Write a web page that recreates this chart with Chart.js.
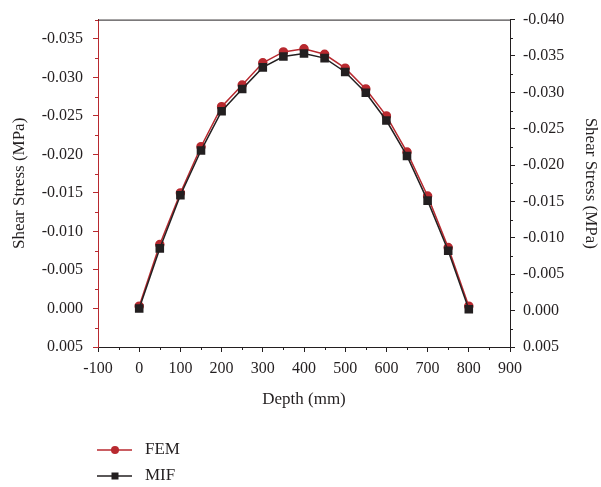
<!DOCTYPE html>
<html>
<head>
<meta charset="utf-8">
<script src="https://cdn.jsdelivr.net/npm/chart.js@4/dist/chart.umd.min.js"></script>
<style>
html, body { margin: 0; padding: 0; background: #fff; }
#wrap { width: 601px; height: 487px; }
</style>
</head>
<body>
<div id="wrap"><canvas id="shearChart" width="601" height="487"></canvas></div>
<script>
// data
var depth = [0, 50, 100, 150, 200, 250, 300, 350, 400, 450, 500, 550, 600, 650, 700, 750, 800];
var femStress = [-0.0003, -0.0083, -0.0150, -0.0210, -0.0262, -0.0290, -0.0319, -0.0333, -0.0337,
	-0.0330, -0.0312, -0.0285, -0.0250, -0.0203, -0.0146, -0.0079, -0.0003];
var mifStress = [0.0000, -0.0078, -0.0147, -0.0205, -0.0256, -0.0285, -0.0313, -0.0327, -0.0331,
	-0.0325, -0.0307, -0.0280, -0.0244, -0.0198, -0.0140, -0.0075, 0.0001];

var depthTicks = [-100, 0, 100, 200, 300, 400, 500, 600, 700, 800, 900];
var leftTicks = [0.005, 0.000, -0.005, -0.010, -0.015, -0.020, -0.025, -0.030, -0.035];
var rightTicks = [0.005, 0.000, -0.005, -0.010, -0.015, -0.020, -0.025, -0.030, -0.035, -0.040];

var seriesNames = ['FEM', 'MIF'];

var red = '#b8292f';
var ink = '#231f20';
var tickFont = { family: '"Liberation Serif", "Times New Roman", serif', size: 16 };
var titleFont = { family: '"Liberation Serif", "Times New Roman", serif', size: 17 };

function toPoints(ys) {
	return depth.map(function (d, i) { return { x: d, y: ys[i] }; });
}
function fmt(v) {
	return v.toFixed(3);
}
function setTicks(list) {
	return function (scale) {
		scale.ticks = list.map(function (v) { return { value: v }; });
	};
}

// minor ticks, frame top and legend
var extras = {
	id: 'extras',
	afterDraw: function (chart) {
		var ctx = chart.ctx;
		var area = chart.chartArea;
		var sx = chart.scales.x, sy = chart.scales.y, sy2 = chart.scales.y2;
		ctx.save();
		ctx.lineWidth = 1;

		ctx.strokeStyle = ink;
		ctx.beginPath();
		ctx.moveTo(area.left, area.top + 0.5);
		ctx.lineTo(area.right, area.top + 0.5);
		ctx.stroke();

		ctx.beginPath();
		for (var i = 0; i < depthTicks.length - 1; i++) {
			var px = Math.round(sx.getPixelForValue((depthTicks[i] + depthTicks[i + 1]) / 2)) + 0.5;
			ctx.moveTo(px, area.bottom);
			ctx.lineTo(px, area.bottom + 3);
		}
		for (var j = 0; j < rightTicks.length - 1; j++) {
			var py2 = Math.round(sy2.getPixelForValue((rightTicks[j] + rightTicks[j + 1]) / 2)) + 0.5;
			ctx.moveTo(area.right, py2);
			ctx.lineTo(area.right + 3, py2);
		}
		ctx.stroke();

		ctx.strokeStyle = red;
		ctx.beginPath();
		for (var k = 0; k < leftTicks.length; k++) {
			var py = Math.round(sy.getPixelForValue(leftTicks[k] - 0.0025)) + 0.5;
			if (py < area.top) continue;
			ctx.moveTo(area.left - 3, py);
			ctx.lineTo(area.left, py);
		}
		ctx.stroke();

		// legend
		chart.data.datasets.forEach(function (ds, n) {
			var ly = 450 + n * 26;
			ctx.strokeStyle = ds.borderColor;
			ctx.lineWidth = 1.5;
			ctx.beginPath();
			ctx.moveTo(97, ly);
			ctx.lineTo(132, ly);
			ctx.stroke();
			ctx.fillStyle = ds.pointBackgroundColor;
			if (ds.pointStyle === 'rect') {
				ctx.fillRect(115 - 3.5, ly - 3.5, 7, 7);
			} else {
				ctx.beginPath();
				ctx.arc(115, ly, ds.pointRadius, 0, Math.PI * 2);
				ctx.fill();
			}
			ctx.fillStyle = ink;
			ctx.font = '17px "Liberation Serif", serif';
			ctx.textBaseline = 'middle';
			ctx.fillText(ds.label, 145, ly);
		});
		ctx.restore();
	}
};

var ctx = document.getElementById('shearChart').getContext('2d');
var shearChart = new Chart(ctx, {
	type: 'line',
	data: {
		datasets: [{
			label: seriesNames[0],
			data: toPoints(femStress),
			borderColor: red,
			backgroundColor: red,
			pointBackgroundColor: red,
			pointBorderColor: red,
			pointStyle: 'circle',
			pointRadius: 4,
			borderWidth: 1.5,
			order: 2,
			yAxisID: 'y'
		}, {
			label: seriesNames[1],
			data: toPoints(mifStress),
			borderColor: ink,
			backgroundColor: ink,
			pointBackgroundColor: ink,
			pointBorderColor: ink,
			pointStyle: 'rect',
			pointRadius: 5,
			borderWidth: 1.5,
			order: 1,
			yAxisID: 'y'
		}]
	},
	options: {
		responsive: false,
		animation: false,
		layout: { padding: { top: 13, bottom: 75, left: 0, right: 0 } },
		plugins: { legend: { display: false }, tooltip: { enabled: false } },
		scales: {
			x: {
				type: 'linear',
				position: 'bottom',
				min: -100,
				max: 900,
				afterBuildTicks: setTicks(depthTicks),
				afterFit: function (s) { s.height = 65; },
				grid: { drawOnChartArea: false, tickLength: 5, color: ink, tickColor: ink },
				border: { color: ink, width: 1 },
				ticks: { padding: 7, font: tickFont, color: ink, maxRotation: 0, autoSkip: false },
				title: { display: true, text: 'Depth (mm)', font: titleFont, color: ink, padding: { top: 0, bottom: 2 } }
			},
			y: {
				type: 'linear',
				position: 'left',
				reverse: true,
				min: -0.0375,
				max: 0.005,
				afterBuildTicks: setTicks(leftTicks),
				afterFit: function (s) { s.width = 98; },
				grid: { drawOnChartArea: false, tickLength: 5, color: red, tickColor: red },
				border: { color: red, width: 1 },
				ticks: { padding: 10, font: tickFont, color: ink, callback: fmt },
				title: { display: true, text: 'Shear Stress (MPa)', font: titleFont, color: ink, padding: { top: 9, bottom: 0 } }
			},
			y2: {
				type: 'linear',
				position: 'right',
				reverse: true,
				min: -0.040,
				max: 0.005,
				afterBuildTicks: setTicks(rightTicks),
				afterFit: function (s) { s.width = 91; },
				grid: { drawOnChartArea: false, tickLength: 5, color: ink, tickColor: ink },
				border: { color: ink, width: 1 },
				ticks: { padding: 8, font: tickFont, color: ink, callback: fmt },
				title: { display: true, text: 'Shear Stress (MPa)', font: titleFont, color: ink, padding: { top: 0, bottom: 0 } }
			}
		}
	},
	plugins: [extras]
});
</script>
</body>
</html>
